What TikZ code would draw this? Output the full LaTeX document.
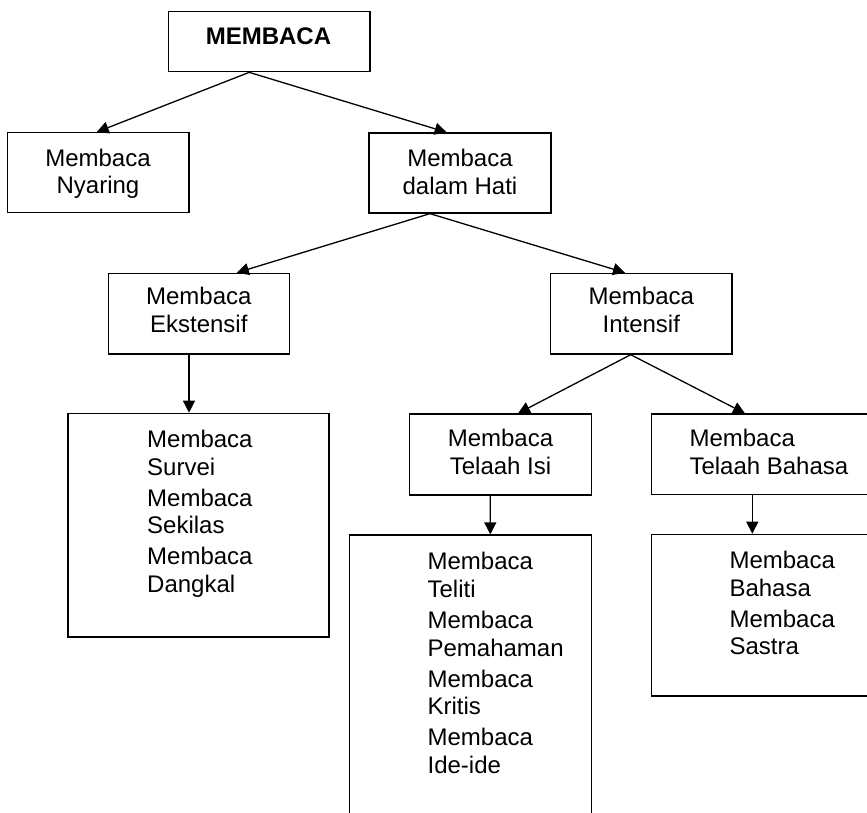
\documentclass[tikz,border=0pt]{standalone}
\usepackage{fontspec}
\setmainfont{Liberation Sans}
\usetikzlibrary{arrows.meta}
\begin{document}
\begin{tikzpicture}[x=1pt,y=-1pt,
  box/.style={draw=black,line width=1.3pt,rectangle,inner sep=0pt},
  arr/.style={draw=black,line width=1.3pt,-{Triangle[length=12pt,width=12pt]}},
  ctxt/.style={anchor=north,inner sep=0pt,align=center,font=\fontsize{24}{27.7}\selectfont},
  ltxt/.style={anchor=north west,inner sep=0pt,align=left,font=\fontsize{24}{27.7}\selectfont}]
\useasboundingbox (0,0) rectangle (867,813);
\fill[white] (0,0) rectangle (867,813);
\clip (0,0) rectangle (867,813);
% boxes
\node[box,minimum width=201.7pt,minimum height=60pt] (m) at (269.2,41.7) {};
\node[box,minimum width=181.7pt,minimum height=80pt] (ny) at (98.2,172.7) {};
\node[box,minimum width=182pt,minimum height=80pt] (dh) at (460,173) {};
\node[box,minimum width=181pt,minimum height=80.7pt] (ek) at (198.8,313.7) {};
\node[box,minimum width=181.3pt,minimum height=80.7pt] (in) at (641.3,313.7) {};
\node[box,minimum width=261pt,minimum height=223.7pt] (eklist) at (198.5,525.2) {};
\node[box,minimum width=181.8pt,minimum height=81pt] (ti) at (500.5,454.5) {};
\node[box,minimum width=240pt,minimum height=80.3pt] (tb) at (771.7,454.2) {};
\node[box,minimum width=242pt,minimum height=365pt] (tilist) at (470.4,717.5) {};
\node[box,minimum width=240pt,minimum height=161.7pt] (tblist) at (771.7,615.2) {};
% texts
\node[anchor=base,inner sep=0pt,font=\fontsize{24}{27.7}\selectfont\bfseries] (tm) at (268.5,45) {MEMBACA};
\node[ctxt] (tny) at (98,148.5) {Membaca\\Nyaring};
\node[ctxt] (tdh) at (460,148.8) {Membaca\\dalam Hati};
\node[ctxt] (tek) at (198.8,286.8) {Membaca\\Ekstensif};
\node[ctxt] (tin) at (641.3,287) {Membaca\\Intensif};
\node[ctxt] (tti) at (500.5,429.4) {Membaca\\Telaah Isi};
\node[ltxt] (ttb) at (689.3,428.9) {Membaca\\Telaah Bahasa};
\node[ltxt] (tekl) at (147,430.1) {Membaca\\Survei\\[3.2pt]Membaca\\Sekilas\\[3.2pt]Membaca\\Dangkal};
\node[ltxt] (ttil) at (427.4,552.3) {Membaca\\Teliti\\[3.2pt]Membaca\\Pemahaman\\[3.2pt]Membaca\\Kritis\\[3.2pt]Membaca\\Ide-ide};
\node[ltxt] (ttbl) at (729.3,551.1) {Membaca\\Bahasa\\[3.2pt]Membaca\\Sastra};
% connectors
\draw[arr] ([xshift=-20pt]m.south) -- ([xshift=-1.5pt]ny.north);
\draw[arr] ([xshift=-20pt]m.south) -- ([xshift=-13.3pt]dh.north);
\draw[arr] ([xshift=-30pt]dh.south) -- ([xshift=38pt]ek.north);
\draw[arr] ([xshift=-30pt]dh.south) -- ([xshift=-16.3pt]in.north);
\draw[arr] ([xshift=-9.8pt]ek.south) -- ([xshift=-9.5pt]eklist.north);
\draw[arr] ([xshift=-10.6pt]in.south) -- ([xshift=17.5pt]ti.north);
\draw[arr] ([xshift=-10.6pt]in.south) -- ([xshift=-26.7pt]tb.north);
\draw[arr] ([xshift=-10.2pt]ti.south) -- ([xshift=19.9pt]tilist.north);
\draw[arr] ([xshift=-19.4pt]tb.south) -- ([xshift=-19.4pt]tblist.north);
\end{tikzpicture}
\end{document}
